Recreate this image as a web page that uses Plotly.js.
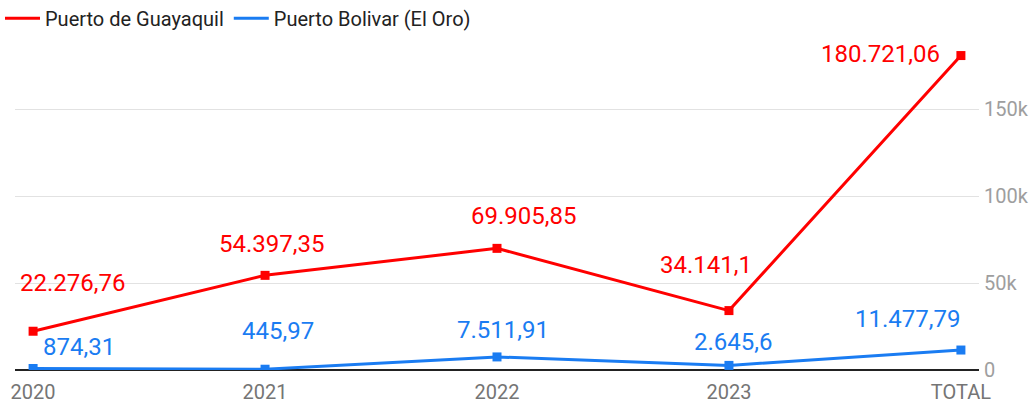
<!DOCTYPE html>
<html><head><meta charset="utf-8">
<script src="https://cdn.plot.ly/plotly-3.0.1.min.js"></script>
<style>html,body{margin:0;padding:0;background:#fff}#chart{width:1032px;height:403px}</style>
</head><body><div id="chart"></div>
<script>
const categories = ['2020', '2021', '2022', '2023', 'TOTAL'];
const guayaquil = [22276.76, 54397.35, 69905.85, 34141.1, 180721.06];
const bolivar = [874.31, 445.97, 7511.91, 2645.6, 11477.79];
const seriesNames = ['Puerto de Guayaquil', 'Puerto Bolivar (El Oro)'];

// label placement (pixel offsets from each point)
const redLabelShift = [[39, 48], [6, 31], [26, 32], [-23, 46], [-80, 2]];
const blueLabelShift = [[46, 21], [13, 38], [6, 27], [5, 23], [-53, 31]];

const RED = '#ff0000', BLUE = '#1a7cf2';

function fmt(v) {
  const s = String(v).split('.');
  const int = s[0].replace(/\B(?=(\d{3})+(?!\d))/g, '.');
  return s.length > 1 ? int + ',' + s[1] : int;
}

const traces = [
  {x: categories, y: guayaquil, name: seriesNames[0], type: 'scatter', mode: 'lines+markers', showlegend: false,
   line: {color: RED, width: 3}, marker: {symbol: 'square', size: 9, color: RED}},
  {x: categories, y: bolivar, name: seriesNames[1], type: 'scatter', mode: 'lines+markers', showlegend: false,
   line: {color: BLUE, width: 3}, marker: {symbol: 'square', size: 9, color: BLUE}},
  {x: [null], y: [null], name: seriesNames[0], type: 'scatter', mode: 'lines', line: {color: RED, width: 3}},
  {x: [null], y: [null], name: seriesNames[1], type: 'scatter', mode: 'lines', line: {color: BLUE, width: 3}}
];

const annotations = [];
categories.forEach((c, i) => {
  annotations.push({x: i, y: guayaquil[i], text: fmt(guayaquil[i]), showarrow: false,
    xanchor: 'center', yanchor: 'middle', xshift: redLabelShift[i][0], yshift: redLabelShift[i][1],
    font: {family: 'Roboto', size: 24, color: RED}});
  annotations.push({x: i, y: bolivar[i], text: fmt(bolivar[i]), showarrow: false,
    xanchor: 'center', yanchor: 'middle', xshift: blueLabelShift[i][0], yshift: blueLabelShift[i][1],
    font: {family: 'Roboto', size: 24, color: BLUE}});
});

const layout = {
  width: 1032, height: 403,
  margin: {l: 15, r: 53, t: 40, b: 33},
  paper_bgcolor: '#fff', plot_bgcolor: '#fff',
  font: {family: 'Roboto', size: 20, color: '#222'},
  showlegend: true,
  legend: {orientation: 'h', x: 0, y: 0.955, xref: 'container', yref: 'container',
    xanchor: 'left', yanchor: 'middle',
    font: {family: 'Roboto', size: 20, color: '#222'}, itemwidth: 35},
  xaxis: {type: 'category', range: [-0.078, 4.078], showgrid: false, showline: false,
    zeroline: false, ticks: '', ticklabelstandoff: 8,
    tickfont: {family: 'Roboto', size: 20, color: '#757575'}, fixedrange: true},
  yaxis: {side: 'right', range: [0, 189655], tickvals: [0, 50000, 100000, 150000],
    tickformat: '~s', showgrid: true, gridcolor: '#e2e2e2', gridwidth: 1,
    zeroline: true, zerolinecolor: '#222', zerolinewidth: 1.5, showline: false, ticks: '',
    ticklabelstandoff: 4,
    tickfont: {family: 'Roboto', size: 20, color: '#9e9e9e'}},
  annotations: annotations
};

Plotly.newPlot('chart', traces, layout, {displayModeBar: false, staticPlot: true});
</script></body></html>
